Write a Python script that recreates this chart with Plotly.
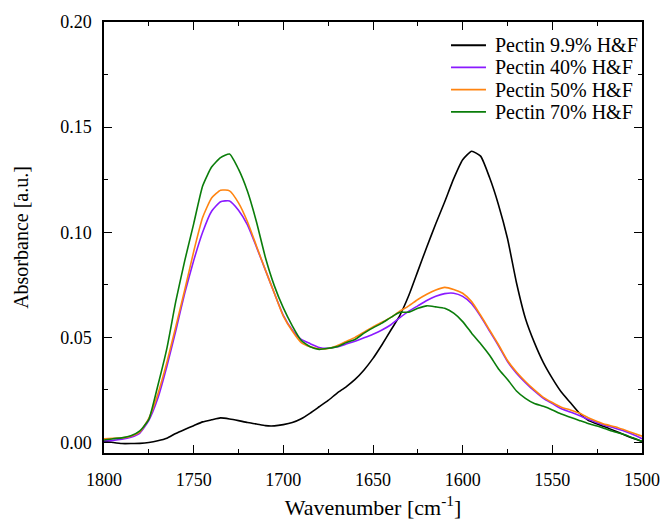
import plotly.graph_objects as go

# Wavenumber grid (cm^-1), 1800 -> 1500 in 5 cm^-1 steps
wavenumber = list(range(1800, 1499, -5))

pectin_9_9 = [
    0.0006, 0.0000, -0.0005, -0.0005, -0.0004, 0.0000, 0.0008, 0.0020, 0.0043, 0.0062,
    0.0080, 0.0098, 0.0108, 0.0117, 0.0112, 0.0104, 0.0095, 0.0088, 0.0080, 0.0079,
    0.0085, 0.0095, 0.0113, 0.0140, 0.0170, 0.0200, 0.0235, 0.0265, 0.0300, 0.0345,
    0.0400, 0.0465, 0.0535, 0.0605, 0.0700, 0.0815, 0.0930, 0.1040, 0.1145, 0.1255,
    0.1345, 0.1385, 0.1362, 0.1260, 0.1130, 0.0970, 0.0760, 0.0590, 0.0475, 0.0380,
    0.0305, 0.0240, 0.0190, 0.0140, 0.0105, 0.0088, 0.0072, 0.0055, 0.0037, 0.0020,
    0.0005,
]

pectin_40 = [
    0.0008, 0.0010, 0.0015, 0.0025, 0.0045, 0.0105, 0.0210, 0.0360, 0.0530, 0.0710,
    0.0865, 0.1000, 0.1100, 0.1145, 0.1149, 0.1105, 0.1035, 0.0930, 0.0820, 0.0710,
    0.0605, 0.0535, 0.0490, 0.0470, 0.0452, 0.0448, 0.0455, 0.0468, 0.0482, 0.0498,
    0.0515, 0.0535, 0.0560, 0.0594, 0.0625, 0.0650, 0.0675, 0.0695, 0.0708, 0.0710,
    0.0695, 0.0660, 0.0600, 0.0530, 0.0460, 0.0385, 0.0330, 0.0285, 0.0245, 0.0210,
    0.0185, 0.0160, 0.0145, 0.0128, 0.0110, 0.0094, 0.0080, 0.0068, 0.0055, 0.0038,
    0.0018,
]

pectin_50 = [
    0.0018, 0.0020, 0.0022, 0.0030, 0.0050, 0.0115, 0.0230, 0.0380, 0.0550, 0.0725,
    0.0908, 0.1070, 0.1163, 0.1200, 0.1197, 0.1140, 0.1050, 0.0935, 0.0820, 0.0710,
    0.0601, 0.0530, 0.0475, 0.0455, 0.0445, 0.0447, 0.0460, 0.0480, 0.0500, 0.0525,
    0.0550, 0.0572, 0.0595, 0.0625, 0.0650, 0.0680, 0.0705, 0.0725, 0.0738, 0.0728,
    0.0710, 0.0670, 0.0605, 0.0535, 0.0465, 0.0390, 0.0335, 0.0290, 0.0250, 0.0215,
    0.0190, 0.0168, 0.0155, 0.0140, 0.0118, 0.0100, 0.0085, 0.0075, 0.0060, 0.0045,
    0.0030,
]

pectin_70 = [
    0.0012, 0.0018, 0.0022, 0.0032, 0.0055, 0.0110, 0.0270, 0.0445, 0.0670, 0.0864,
    0.1040, 0.1220, 0.1310, 0.1355, 0.1372, 0.1300, 0.1195, 0.1050, 0.0880, 0.0745,
    0.0640, 0.0555, 0.0485, 0.0455, 0.0443, 0.0448, 0.0456, 0.0475, 0.0490, 0.0520,
    0.0545, 0.0568, 0.0595, 0.0619, 0.0620, 0.0638, 0.0650, 0.0645, 0.0638, 0.0615,
    0.0575, 0.0520, 0.0470, 0.0415, 0.0350, 0.0300, 0.0245, 0.0210, 0.0185, 0.0172,
    0.0155, 0.0135, 0.0120, 0.0105, 0.0090, 0.0078, 0.0064, 0.0050, 0.0038, 0.0022,
    0.0006,
]

series_names = ["Pectin 9.9% H&F", "Pectin 40% H&F", "Pectin 50% H&F", "Pectin 70% H&F"]
series_values = [pectin_9_9, pectin_40, pectin_50, pectin_70]
series_colors = ["#000000", "#8a1aff", "#ff8410", "#0a7d0a"]

FONT = "Liberation Serif"

fig = go.Figure()
for name, values, color in zip(series_names, series_values, series_colors):
    fig.add_trace(go.Scatter(
        x=wavenumber, y=values, mode="lines", name=name, showlegend=False,
        line=dict(color=color, width=1.6, shape="spline", smoothing=0.5),
    ))

# Compact legend in the upper-right corner: a short line sample plus label per series
legend_x0, legend_x1, legend_text_x = 0.645, 0.710, 0.723
legend_top, legend_step = 0.946, 0.0515
for i, (name, color) in enumerate(zip(series_names, series_colors)):
    yy = legend_top - i * legend_step
    fig.add_shape(type="line", xref="paper", yref="paper",
                  x0=legend_x0, x1=legend_x1, y0=yy, y1=yy,
                  line=dict(color=color, width=1.8))
    fig.add_annotation(xref="paper", yref="paper", x=legend_text_x, y=yy,
                       text=name, showarrow=False, xanchor="left", yanchor="middle",
                       font=dict(family=FONT, size=20, color="black"))

axis_common = dict(
    showline=True, linecolor="black", linewidth=1.5, mirror="ticks",
    ticks="inside", ticklen=8, tickwidth=1.2, tickcolor="black",
    showgrid=False, zeroline=False, automargin=False,
    tickfont=dict(family=FONT, size=18, color="black"),
)

fig.update_xaxes(
    range=[1800, 1500], tick0=1500, dtick=50, ticklabelstandoff=10,
    minor=dict(ticks="inside", ticklen=4, tickwidth=1.2, tickcolor="black", dtick=25, tick0=1500),
    title=dict(text="Wavenumber [cm<sup>-1</sup>]", font=dict(family=FONT, size=22, color="black"), standoff=10),
    **axis_common,
)
fig.update_yaxes(
    range=[-0.005, 0.20], tick0=0, dtick=0.05, tickformat=".2f", ticklabelstandoff=7,
    minor=dict(ticks="inside", ticklen=4, tickwidth=1.2, tickcolor="black", dtick=0.025, tick0=0),
    title=dict(text="Absorbance [a.u.]", font=dict(family=FONT, size=20, color="black"), standoff=26),
    **axis_common,
)

fig.update_layout(
    width=661, height=520,
    margin=dict(l=104, r=19, t=22, b=67),
    plot_bgcolor="white", paper_bgcolor="white",
    font=dict(family=FONT, color="black"),
    showlegend=False,
)

fig.write_html("out.html")
